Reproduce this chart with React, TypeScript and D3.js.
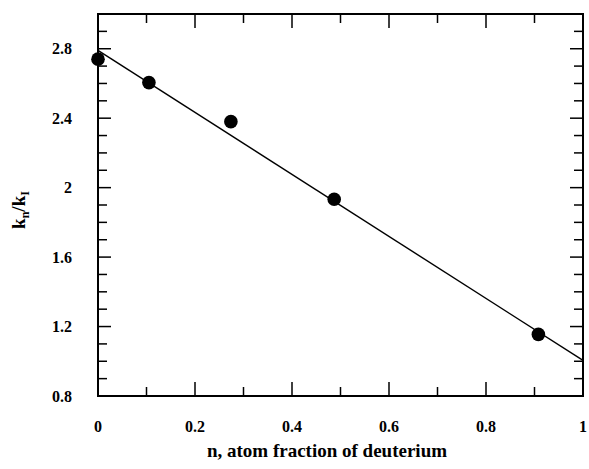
import React from "react";
import * as d3 from "d3";

const xValues = [0, 0.105, 0.274, 0.487, 0.908];
const yValues = [2.74, 2.605, 2.38, 1.933, 1.155];
const fitIntercept = 2.79;
const fitSlope = -1.785;
const xTickLabels = [0, 0.2, 0.4, 0.6, 0.8, 1];
const yTickLabels = [0.8, 1.2, 1.6, 2, 2.4, 2.8];

const W = 589;
const H = 469;
const M = { left: 98, right: 583, top: 14, bottom: 396 };
const textStyle: React.CSSProperties = {
  fontFamily: '"Liberation Serif", serif',
  fontWeight: 700,
};

export default function App() {
  const x = d3.scaleLinear().domain([0, 1]).range([M.left, M.right]);
  const y = d3.scaleLinear().domain([0.8, 3.0]).range([M.bottom, M.top]);
  const xMinor = d3.range(0, 11).map((i) => i / 10);
  const yMinor = d3.range(8, 31).map((i) => i / 10);
  const lineGen = d3
    .line<number>()
    .x((d) => x(d))
    .y((d) => y(fitIntercept + fitSlope * d));
  const isMajorX = (v: number) => Math.abs(v * 5 - Math.round(v * 5)) < 1e-6;
  const isMajorY = (v: number) => Math.abs(v * 2.5 - Math.round(v * 2.5)) < 1e-6;
  const fmt = (v: number) => (v === 0 || v === 1 || v === 2 ? String(v) : v.toFixed(1));

  return (
    <svg
      width={W}
      height={H}
      style={{ position: "absolute", left: 0, top: 0, background: "#fff" }}
    >
      {xMinor.map((v, i) => {
        const len = isMajorX(v) ? 14 : 9;
        return (
          <g key={"xt" + i} stroke="#000" strokeWidth={1.5}>
            <line x1={x(v)} x2={x(v)} y1={M.bottom} y2={M.bottom - len} />
            <line x1={x(v)} x2={x(v)} y1={M.top} y2={M.top + len} />
          </g>
        );
      })}
      {yMinor.map((v, i) => {
        const len = isMajorY(v) ? 13 : 9;
        return (
          <g key={"yt" + i} stroke="#000" strokeWidth={1.5}>
            <line x1={M.left} x2={M.left + len} y1={y(v)} y2={y(v)} />
            <line x1={M.right} x2={M.right - len} y1={y(v)} y2={y(v)} />
          </g>
        );
      })}
      <rect
        x={M.left}
        y={M.top}
        width={M.right - M.left}
        height={M.bottom - M.top}
        fill="none"
        stroke="#000"
        strokeWidth={2}
      />
      <path d={lineGen([0, 1]) || ""} fill="none" stroke="#000" strokeWidth={1.4} />
      {xValues.map((v, i) => (
        <circle key={"p" + i} cx={x(v)} cy={y(yValues[i])} r={6.8} fill="#000" />
      ))}
      {xTickLabels.map((v, i) => (
        <text key={"xl" + i} x={x(v)} y={432} textAnchor="middle" style={{ ...textStyle, fontSize: 16 }}>
          {fmt(v)}
        </text>
      ))}
      {yTickLabels.map((v, i) => (
        <text key={"yl" + i} x={72} y={y(v) + 5.5} textAnchor="end" style={{ ...textStyle, fontSize: 16 }}>
          {fmt(v)}
        </text>
      ))}
      <text x={327} y={457} textAnchor="middle" style={{ ...textStyle, fontSize: 19 }}>
        n, atom fraction of deuterium
      </text>
      <text transform={`translate(25,210) rotate(-90)`} textAnchor="middle" style={{ ...textStyle, fontSize: 19 }}>
        k<tspan style={{ fontSize: 12 }} dy={4}>n</tspan>
        <tspan dy={-4}>/k</tspan>
        <tspan style={{ fontSize: 12 }} dy={4}>I</tspan>
      </text>
    </svg>
  );
}
